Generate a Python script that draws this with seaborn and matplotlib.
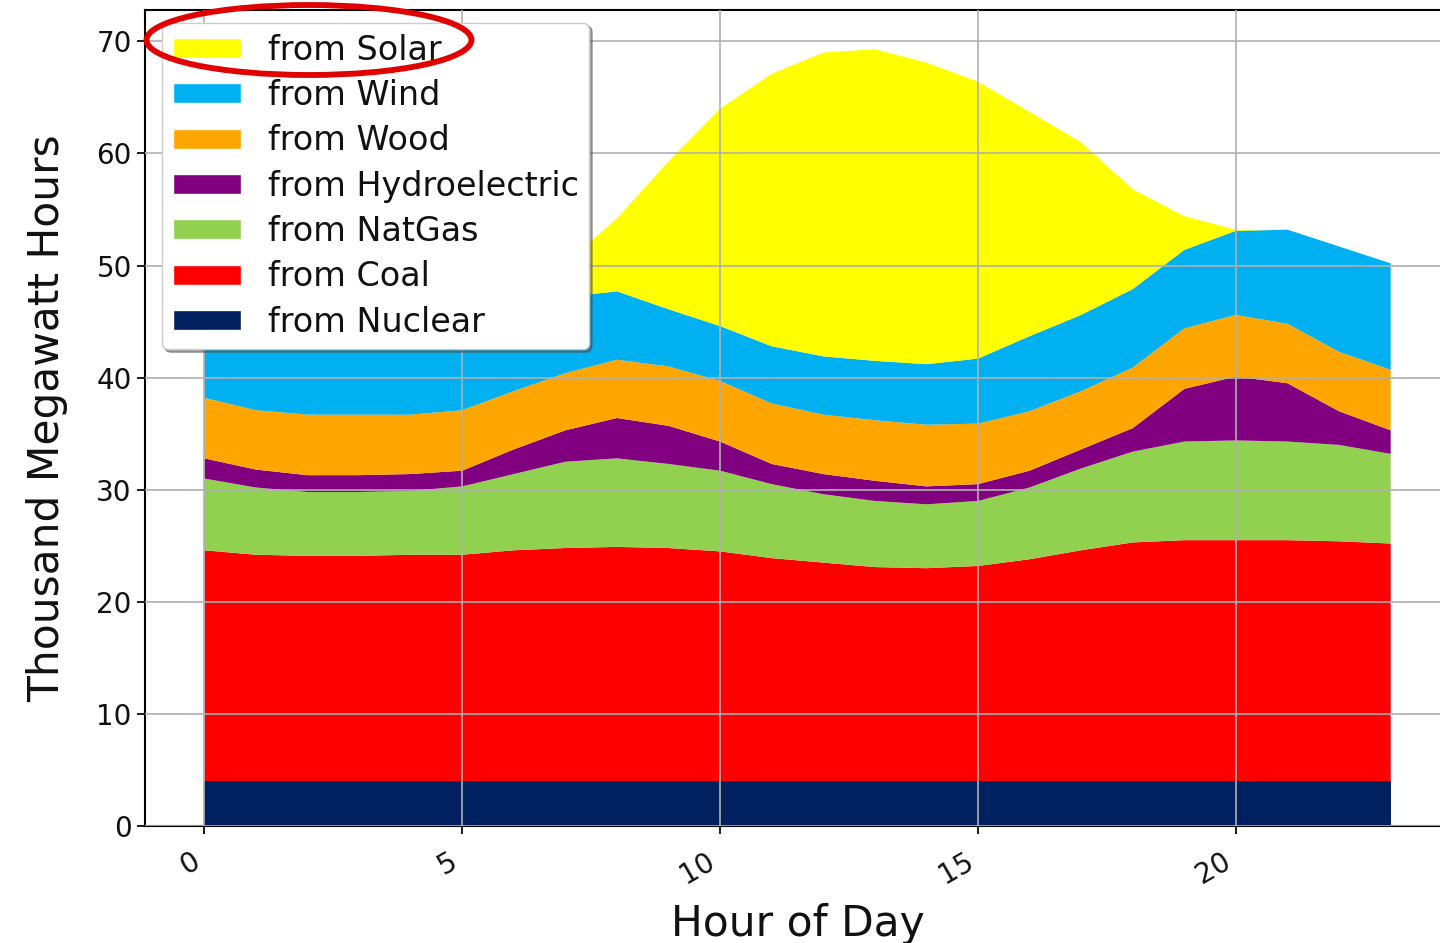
import matplotlib
matplotlib.use("Agg")
import matplotlib.pyplot as plt
import seaborn as sns
from matplotlib.patches import Ellipse, Patch

hours = list(range(24))
nuclear = [4.0] * 24
coal = [20.6, 20.2, 20.1, 20.1, 20.2, 20.2, 20.6, 20.8, 20.9, 20.8, 20.5, 19.9,
        19.5, 19.1, 19.0, 19.2, 19.8, 20.6, 21.3, 21.5, 21.5, 21.5, 21.4, 21.2]
natgas = [6.4, 6.0, 5.7, 5.7, 5.7, 6.1, 6.8, 7.7, 7.9, 7.5, 7.2, 6.6,
          6.1, 5.9, 5.7, 5.8, 6.4, 7.3, 8.1, 8.8, 8.9, 8.8, 8.6, 8.0]
hydro = [1.8, 1.6, 1.5, 1.5, 1.5, 1.4, 2.2, 2.8, 3.6, 3.4, 2.6, 1.8,
         1.8, 1.8, 1.6, 1.5, 1.5, 1.7, 2.1, 4.7, 5.7, 5.2, 3.0, 2.1]
wood = [5.4, 5.3, 5.4, 5.4, 5.3, 5.4, 5.2, 5.1, 5.2, 5.3, 5.4, 5.4,
        5.3, 5.4, 5.5, 5.4, 5.3, 5.2, 5.4, 5.4, 5.5, 5.3, 5.3, 5.4]
wind = [8.0, 8.3, 8.5, 8.5, 8.3, 8.0, 7.4, 6.8, 6.1, 5.1, 4.9, 5.1,
        5.2, 5.3, 5.4, 5.8, 6.7, 6.8, 7.0, 7.0, 7.5, 8.4, 9.4, 9.5]
solar = [0, 0, 0, 0, 0, 0, 0.4, 3.0, 6.5, 13.2, 19.4, 24.3,
         27.1, 27.8, 26.9, 24.7, 20.0, 15.4, 8.9, 3.0, 0.1, 0, 0, 0]

labels = ["from Nuclear", "from Coal", "from NatGas", "from Hydroelectric",
          "from Wood", "from Wind", "from Solar"]
colors = ["#002060", "#FF0000", "#92D050", "#800080",
          "#FFA500", "#00B0F0", "#FFFF00"]

sns.set_theme(style="whitegrid", rc={
    "axes.edgecolor": "black",
    "axes.axisbelow": False,
    "axes.labelcolor": "#111111",
    "text.color": "#111111",
    "grid.color": "#b0b0b0",
    "grid.linewidth": 1.2,
    "xtick.bottom": True,
    "ytick.left": True,
    "xtick.major.size": 6,
    "ytick.major.size": 6,
    "xtick.color": "black",
    "ytick.color": "black",
})
plt.rcParams["font.family"] = ["DejaVu Sans"]

fig = plt.figure(figsize=(14.4, 9.43), dpi=100)
ax = fig.add_axes([145 / 1440, 1 - 826 / 943, 1305 / 1440, 816 / 943])

ax.stackplot(hours, nuclear, coal, natgas, hydro, wood, wind, solar,
             colors=colors, labels=labels, linewidth=0, edgecolor="none")
ax.set_ylim(0, 72.8)
ax.set_xlim(-1.15, 24.15)
for s in ["left", "bottom", "top"]:
    ax.spines[s].set_linewidth(1.5)
ax.spines["right"].set_visible(False)

ax.tick_params(axis="both", labelsize=20, labelcolor="#111111")
ax.tick_params(axis="x", pad=9)
plt.setp(ax.get_xticklabels(), rotation=30, ha="right")
ax.set_xlabel("Hour of Day", fontsize=30.5, labelpad=10)
ax.set_ylabel("Thousand Megawatt Hours", fontsize=30.5, labelpad=20)

handles = [Patch(facecolor=c, label=l) for c, l in zip(colors, labels)][::-1]
leg = ax.legend(handles=handles, loc="upper left", fontsize=24, shadow=True,
                framealpha=1, handlelength=2.05, handleheight=0.55,
                labelspacing=0.37, borderpad=0.32,
                bbox_to_anchor=(0.013, 0.984), borderaxespad=0)

ell = Ellipse((309 / 1440, 1 - 40 / 943), 325 / 1440, 70 / 943,
              transform=fig.transFigure, fill=False, edgecolor="#E00000",
              linewidth=4.2, zorder=10)
fig.patches.append(ell)

fig.savefig("out.png", dpi=100)
